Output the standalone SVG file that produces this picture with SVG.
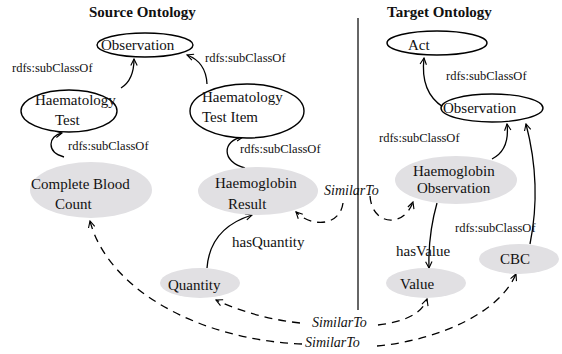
<svg xmlns="http://www.w3.org/2000/svg" width="562" height="354" viewBox="0 0 562 354">
<defs>
<marker id="arr" viewBox="0 0 10 10" refX="9" refY="5" markerWidth="8" markerHeight="8" markerUnits="userSpaceOnUse" orient="auto">
<path d="M1,1 L9,5 L1,9" fill="none" stroke="#000" stroke-width="1.4"/>
</marker>
</defs>
<style>
text{font-family:"Liberation Serif","Times New Roman",serif;fill:#111}
.t{font-size:15px;font-weight:bold}
.n{font-size:15px}
.l{font-size:12.5px}
.s{font-size:14px;font-style:italic}
.w{fill:#fff;stroke:#000;stroke-width:1.4}
.g{fill:#e1e0e3;stroke:none}
.e{fill:none;stroke:#000;stroke-width:1.3}
.d{fill:none;stroke:#000;stroke-width:1.3;stroke-dasharray:8 6}
</style>
<rect width="562" height="354" fill="#fff"/>
<text class="t" x="89" y="17">Source Ontology</text>
<text class="t" x="387" y="17">Target Ontology</text>
<line x1="358" y1="18" x2="358" y2="310" stroke="#333" stroke-width="1.5"/>

<g id="edges">
<path class="e" d="M121,88 Q134,80 134,59" marker-end="url(#arr)"/>
<path class="e" d="M207,84 Q206,62 187,55" marker-end="url(#arr)"/>
<path class="e" d="M64,157 C46,152 48,136 62,133" marker-end="url(#arr)"/>
<path class="e" d="M245,168 C221,162 222,140 243,137" marker-end="url(#arr)"/>
<path class="e" d="M207,268 Q210,228 252,215" marker-end="url(#arr)"/>
<path class="e" d="M443,107 Q420,92 424,58" marker-end="url(#arr)"/>
<path class="e" d="M492,159 Q510,150 507,124" marker-end="url(#arr)"/>
<path class="e" d="M530,244 Q542,185 526,124" marker-end="url(#arr)"/>
<path class="e" d="M437,203 Q428,235 429,268" marker-end="url(#arr)"/>
<path class="d" d="M343,203 C340,226 312,228 296,212" marker-end="url(#arr)"/>
<path class="d" d="M370,196 C372,226 404,228 413,202" marker-end="url(#arr)"/>
<path class="d" d="M300,323 Q255,318 216,300" marker-end="url(#arr)"/>
<path class="d" d="M378,325 Q420,320 427,299" marker-end="url(#arr)"/>
<path class="d" d="M302,344 C200,340 108,290 90,221" marker-end="url(#arr)"/>
<path class="d" d="M377,346 C440,340 500,312 516,274" marker-end="url(#arr)"/>
<text class="l" x="12" y="72">rdfs:subClassOf</text>
<text class="l" x="205" y="62">rdfs:subClassOf</text>
<text class="l" x="68" y="150">rdfs:subClassOf</text>
<text class="l" x="240" y="153">rdfs:subClassOf</text>
<text class="n" x="232" y="247">hasQuantity</text>
<text class="l" x="446" y="80">rdfs:subClassOf</text>
<text class="l" x="379" y="142">rdfs:subClassOf</text>
<text class="l" x="455" y="232">rdfs:subClassOf</text>
<text class="n" x="396" y="256">hasValue</text>
<text class="s" x="324" y="195">SimilarTo</text>
<text class="s" x="312" y="327">SimilarTo</text>
<text class="s" x="305" y="347">SimilarTo</text>
</g>

<g id="src-observation">
<ellipse class="w" cx="145" cy="45" rx="48" ry="12"/>
<text class="n" x="101" y="50">Observation</text>
</g>
<g id="haematology-test">
<ellipse class="w" cx="69" cy="111" rx="48" ry="21"/>
<text class="n" x="35" y="105">Haematology</text>
<text class="n" x="55" y="125">Test</text>
</g>
<g id="haematology-test-item">
<ellipse class="w" cx="247" cy="111" rx="57" ry="27"/>
<text class="n" x="202" y="102">Haematology</text>
<text class="n" x="202" y="122">Test Item</text>
</g>
<g id="complete-blood-count">
<ellipse class="g" cx="91" cy="190" rx="61" ry="28"/>
<text class="n" x="31" y="189">Complete Blood</text>
<text class="n" x="55" y="209">Count</text>
</g>
<g id="haemoglobin-result">
<ellipse class="g" cx="258" cy="191" rx="60" ry="24"/>
<text class="n" x="215" y="188">Haemoglobin</text>
<text class="n" x="228" y="209">Result</text>
</g>
<g id="quantity">
<ellipse class="g" cx="200" cy="283" rx="40" ry="15"/>
<text class="n" x="168" y="290">Quantity</text>
</g>
<g id="act">
<ellipse class="w" cx="437" cy="43" rx="50" ry="12"/>
<text class="n" x="408" y="50">Act</text>
</g>
<g id="tgt-observation">
<ellipse class="w" cx="492" cy="108" rx="51" ry="14"/>
<text class="n" x="443" y="113">Observation</text>
</g>
<g id="haemoglobin-observation">
<ellipse class="g" cx="456" cy="180" rx="61" ry="24"/>
<text class="n" x="413" y="176">Haemoglobin</text>
<text class="n" x="417" y="193">Observation</text>
</g>
<g id="value">
<ellipse class="g" cx="426" cy="283" rx="40" ry="15"/>
<text class="n" x="400" y="289">Value</text>
</g>
<g id="cbc">
<ellipse class="g" cx="519" cy="259" rx="40" ry="15"/>
<text class="n" x="500" y="264">CBC</text>
</g>
</svg>
